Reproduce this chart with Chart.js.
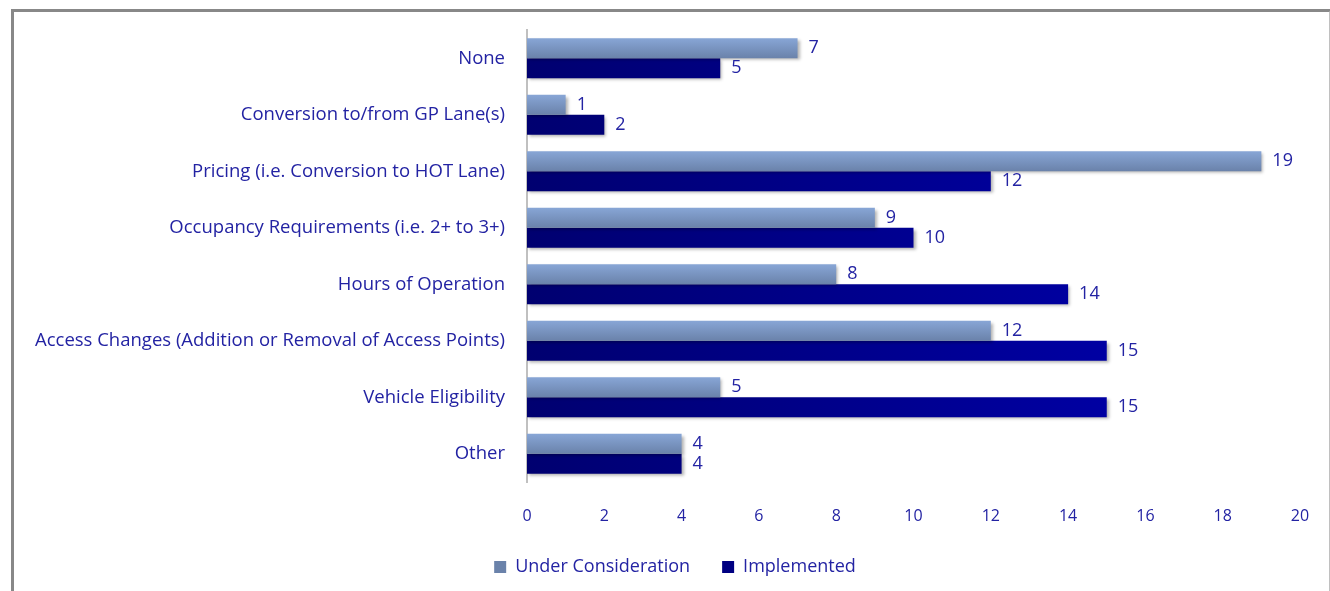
<!DOCTYPE html>
<html>
<head>
<meta charset="utf-8">
<script src="https://cdn.jsdelivr.net/npm/chart.js@4/dist/chart.umd.min.js"></script>
<style>
  body { margin: 0; background: #fff; }
  #frame { position: absolute; left: 11px; top: 9px; width: 1315px; height: 600px;
           border-top: 3px solid #888; border-left: 3px solid #888; border-right: 3px solid #c0c0c0; }
  #myChart { position: absolute; left: 0; top: 0; }
</style>
</head>
<body>
<div id="frame"></div>
<canvas id="myChart" width="1330" height="591"></canvas>
<script>
let labels = ['None', 'Conversion to/from GP Lane(s)', 'Pricing (i.e. Conversion to HOT Lane)',
  'Occupancy Requirements (i.e. 2+ to 3+)', 'Hours of Operation',
  'Access Changes (Addition or Removal of Access Points)', 'Vehicle Eligibility', 'Other'];
let underConsideration = [7, 1, 19, 9, 8, 12, 5, 4];
let implemented = [5, 2, 12, 10, 14, 15, 15, 4];
let xTicks = [0, 2, 4, 6, 8, 10, 12, 14, 16, 18, 20];

let textColor = '#2323a3';
let fontFamily = '"Open Sans", Lato, sans-serif';
let catPct = 0.71;

function barGradient(context, top) {
	let chart = context.chart;
	let y = chart.scales.y;
	if (!y || !chart.chartArea) return top ? '#7a96c4' : '#00008c';
	let ctx = chart.ctx;
	if (top) {
		let yc = y.getPixelForValue(context.dataIndex);
		let h = (y.height / labels.length) * catPct / 2;
		let g = ctx.createLinearGradient(0, yc - h, 0, yc);
		g.addColorStop(0, '#88a6d6');
		g.addColorStop(1, '#6a82aa');
		return g;
	}
	let area = chart.chartArea;
	let g = ctx.createLinearGradient(area.left, 0, area.left + 600, 0);
	g.addColorStop(0, '#000070');
	g.addColorStop(1, '#0000a4');
	return g;
}

let valueLabels = {
	id: 'valueLabels',
	afterLayout(chart) {
		// legend sits a bit right of centre in the original
		if (chart.legend) {
			chart.legend.left += 25;
			chart.legend.right += 25;
		}
	},
	beforeDatasetsDraw(chart) {
		let ctx = chart.ctx;
		ctx.save();
		ctx.shadowColor = 'rgba(0,0,0,0.3)';
		ctx.shadowOffsetX = 2;
		ctx.shadowOffsetY = 2;
		ctx.shadowBlur = 3;
	},
	afterDatasetsDraw(chart) {
		let ctx = chart.ctx;
		ctx.restore();
		ctx.save();
		ctx.font = '18px ' + fontFamily;
		ctx.fillStyle = textColor;
		ctx.textBaseline = 'middle';
		ctx.textAlign = 'left';
		chart.data.datasets.forEach((ds, i) => {
			chart.getDatasetMeta(i).data.forEach((bar, j) => {
				ctx.fillText(String(ds.data[j]), bar.x + 11, bar.y);
			});
		});
		ctx.restore();
	}
};

let myChart = document.getElementById('myChart').getContext('2d');

let chart = new Chart(myChart, {
	type: 'bar',
	data: {
		labels: labels,
		datasets: [
		{
			label: 'Under Consideration',
			data: underConsideration,
			backgroundColor: (c) => barGradient(c, true),
			categoryPercentage: catPct,
			barPercentage: 1.0
		},
		{
			label: 'Implemented',
			data: implemented,
			backgroundColor: (c) => barGradient(c, false),
			categoryPercentage: catPct,
			barPercentage: 1.0
		}
		]
	},
	options: {
		indexAxis: 'y',
		responsive: false,
		animation: false,
		layout: { padding: { top: 30, right: 30, bottom: 5, left: 0 } },
		scales: {
			x: {
				min: 0,
				max: 20,
				afterBuildTicks: (axis) => { axis.ticks = xTicks.map(v => ({ value: v })); },
				afterFit: (axis) => { axis.height = 44; },
				grid: { display: false },
				border: { display: false },
				ticks: { color: textColor, font: { family: fontFamily, size: 16 }, padding: 17 }
			},
			y: {
				grid: { display: false },
				border: { display: true, color: '#c0c0c0', width: 2 },
				afterFit: (axis) => { axis.width = 527; },
				ticks: { color: textColor, font: { family: fontFamily, size: 18.5 }, padding: 14 }
			}
		},
		plugins: {
			legend: {
				position: 'bottom',
				labels: {
					color: textColor,
					font: { family: fontFamily, size: 18 },
					boxWidth: 12,
					boxHeight: 12,
					padding: 32
				}
			},
			tooltip: { enabled: false }
		}
	},
	plugins: [valueLabels]
});
</script>
</body>
</html>
